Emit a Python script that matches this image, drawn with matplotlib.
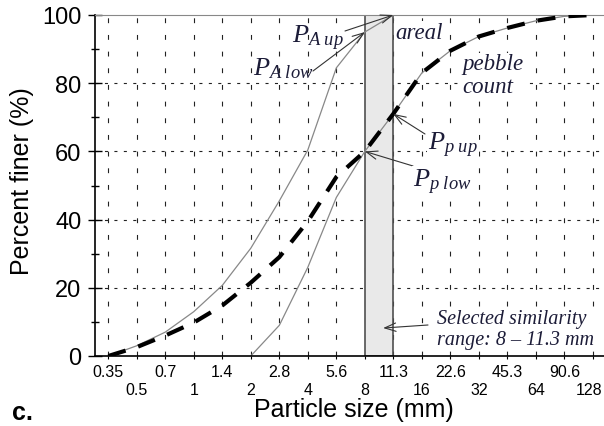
import matplotlib
matplotlib.use('Agg')
import matplotlib.pyplot as plt
from matplotlib.transforms import ScaledTranslation

plt.rcParams['font.family'] = ['Liberation Sans', 'DejaVu Sans']
plt.rcParams['mathtext.fontset'] = 'custom'
plt.rcParams['mathtext.it'] = 'Liberation Serif:italic'
plt.rcParams['mathtext.rm'] = 'Liberation Serif'
plt.rcParams['lines.scale_dashes'] = False

# half-phi sieve sizes (mm)
sizes = [0.354, 0.5, 0.707, 1, 1.414, 2, 2.83, 4, 5.66, 8, 11.31,
         16, 22.6, 32, 45.3, 64, 90.5, 128]
top_labels = ['0.35', '0.7', '1.4', '2.8', '5.6', '11.3', '22.6', '45.3', '90.6']
bottom_labels = ['0.5', '1', '2', '4', '8', '16', '32', '64', '128']

pebble = [0, 2.6, 6, 9.8, 14.8, 21.5, 29, 39.5, 52.5, 60, 71,
          83, 89.5, 93.7, 96.2, 98.3, 99.6, 100]
areal_up_sizes = sizes[:11]
areal_up = [0, 3, 7, 13, 20.7, 31.6, 45.5, 60.4, 84.5, 95, 100]
areal_low_sizes = sizes[5:]
areal_low = [0, 9, 26, 46.5, 60, 71, 83, 89.5, 93.7, 96.2, 98.3, 99.6, 100]
sim_range = (8, 11.31)

W, H = 604, 427
fig = plt.figure(figsize=(W / 100, H / 100), dpi=100)
ax = fig.add_axes([95 / W, 70 / H, 509 / W, 341 / H])
ax.set_xscale('log', base=2)
ax.set_xlim(0.3009, 146.6)
ax.set_ylim(0, 100)

def px(x, y):
    return (x / W, 1 - y / H)

# grid
for s in sizes:
    ax.axvline(s, color='#222222', lw=0.8, dashes=(3.5, 8.5), zorder=0)
for v in [20, 40, 60, 80]:
    ax.axhline(v, color='#222222', lw=0.8, dashes=(2.2, 4.6), zorder=0)

ax.axvspan(*sim_range, facecolor='#e9e9e9', edgecolor='#505050', lw=1.2, zorder=1)

ax.plot(areal_up_sizes, areal_up, color='#888888', lw=0.9, zorder=2)
ax.plot(areal_low_sizes, areal_low, color='#888888', lw=0.9, zorder=2)
ax.plot(sizes, pebble, color='k', lw=3, dashes=(13, 9.5), zorder=3)

ax.spines['right'].set_visible(False)
ax.spines['top'].set_color('#888888')
ax.spines['left'].set_linewidth(1.2)
ax.spines['bottom'].set_linewidth(1.2)

ax.set_yticks([0, 20, 40, 60, 80, 100])
ax.set_yticks([10, 30, 50, 70, 90], minor=True)
ax.tick_params(axis='y', which='major', direction='inout', length=9.5,
               width=1, labelsize=17, pad=5)
ax.tick_params(axis='y', which='minor', direction='inout', length=6, width=1)

ax.set_xticks(sizes[1::2], bottom_labels)
ax.set_xticks(sizes[0::2], top_labels, minor=True)
ax.tick_params(axis='x', which='major', direction='out', length=2.5,
               width=0.8, labelsize=11.5, pad=16)
ax.tick_params(axis='x', which='minor', direction='out', length=2.5,
               width=0.8, labelsize=11.5, pad=3.5)
# nudge the last label so it stays inside the figure
last = ax.get_xticklabels()[-1]
last.set_transform(last.get_transform() + ScaledTranslation(-3 / 72, 0, fig.dpi_scale_trans))

fig.text(*px(22, 181), 'Percent finer (%)', rotation=90, ha='center',
         va='center', fontsize=18)
fig.text(*px(354, 410), 'Particle size (mm)', ha='center', va='center',
         fontsize=18)
fig.text(*px(12, 420), 'c.', fontsize=18, fontweight='bold', va='baseline')

tc = '#1c1c38'
box = dict(facecolor='white', edgecolor='none', pad=0.5)
serif = dict(family='Liberation Serif', style='italic', color=tc, bbox=box)
fig.text(*px(253, 75), r'$P_{A\ low}$', fontsize=19, color=tc)
fig.text(*px(292, 43), r'$P_{A\ up}$', fontsize=19, color=tc)
fig.text(*px(428, 150), r'$P_{p\ up}$', fontsize=19, color=tc, bbox=box)
fig.text(*px(413, 187), r'$P_{p\ low}$', fontsize=19, color=tc, bbox=box)
fig.text(*px(395, 39), 'areal', fontsize=16.5, **serif)
fig.text(*px(462, 93), 'pebble\ncount', fontsize=16.5, linespacing=1.1, **serif)
fig.text(*px(437, 345), 'Selected similarity\nrange: 8 \u2013 11.3 mm',
         fontsize=14.5, linespacing=1.15, **serif)

arrow = dict(arrowstyle='->,head_length=0.8,head_width=0.3', color='#333333',
             lw=0.8, shrinkA=0, shrinkB=0)
ax.annotate('', xy=(areal_up_sizes[9], areal_up[9]), xytext=px(313, 72),
            textcoords='figure fraction', arrowprops=arrow)
ax.annotate('', xy=(areal_up_sizes[10], areal_up[10]), xytext=px(345, 32),
            textcoords='figure fraction', arrowprops=arrow)
ax.annotate('', xy=(sizes[10], pebble[10]), xytext=px(425, 135),
            textcoords='figure fraction', arrowprops=arrow)
ax.annotate('', xy=(sizes[9], pebble[9]), xytext=px(413, 167),
            textcoords='figure fraction', arrowprops=arrow)
ax.annotate('', xy=(10, 8.2), xytext=px(428, 326),
            textcoords='figure fraction', arrowprops=arrow)

fig.savefig('out.png', dpi=100)
